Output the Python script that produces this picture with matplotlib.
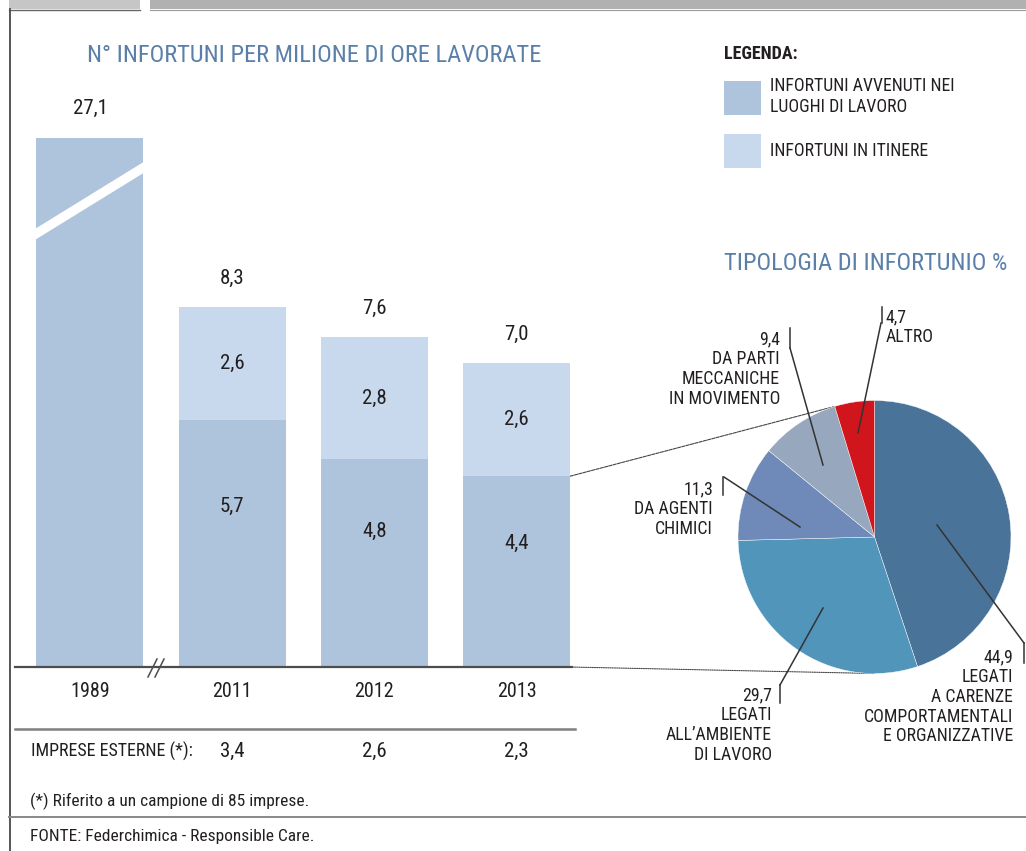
import matplotlib.pyplot as plt
from matplotlib.patches import Polygon, Rectangle, ConnectionPatch
import numpy as np

plt.rcParams['font.family'] = ['Roboto Condensed', 'Archivo Narrow', 'Liberation Sans', 'DejaVu Sans']

# dati del grafico a barre
anni = ['1989', '2011', '2012', '2013']
luoghi_lavoro = [27.1, 5.7, 4.8, 4.4]
in_itinere = [0.0, 2.6, 2.8, 2.6]
imprese_esterne = [3.4, 2.6, 2.3]
nomi_serie = ['INFORTUNI AVVENUTI NEI\nLUOGHI DI LAVORO', 'INFORTUNI IN ITINERE']

# dati della torta
tipologie = ['LEGATI\nA CARENZE\nCOMPORTAMENTALI\nE ORGANIZZATIVE',
             'LEGATI\nALL\u2019AMBIENTE\nDI LAVORO',
             'DA AGENTI\nCHIMICI',
             'DA PARTI\nMECCANICHE\nIN MOVIMENTO',
             'ALTRO']
percentuali = [44.9, 29.7, 11.3, 9.4, 4.7]
colori_torta = ['#4a7399', '#5195bb', '#6f8ab8', '#97a7bd', '#d0161c']

col_scuro = '#aec3dc'
col_chiaro = '#c8d9ee'
blu_titolo = '#5a80aa'
nero = '#231f20'

W, H = 1026, 851


def fmt(v):
    return f'{v:.1f}'.replace('.', ',')


fig = plt.figure(figsize=(W / 100, H / 100), dpi=100)

# asse per decorazioni in pixel
ov = fig.add_axes([0, 0, 1, 1], zorder=3)
ov.set_xlim(0, W)
ov.set_ylim(H, 0)
ov.axis('off')
ov.patch.set_alpha(0)

# cornice
ov.add_patch(Rectangle((9, 0), 131, 9, color='#c6c6c6', lw=0))
ov.add_patch(Rectangle((150, 0), W - 150, 9, color='#b1b1b1', lw=0))
ov.plot([9, 140], [10, 10], color='#666666', lw=1)
ov.plot([150, W], [10, 10], color='#999999', lw=0.8)
ov.plot([9.5, 9.5], [9, H], color='#555555', lw=1.4)
ov.plot([9, W], [817, 817], color='#888888', lw=1.4)
ov.plot([15, 575], [729, 729], color='#808080', lw=1.8)

# --- barre ---
ax = fig.add_axes([15 / W, 1 - 667 / H, 557 / W, 529 / H], zorder=1)
x = np.arange(len(anni))
b1 = ax.bar(x, luoghi_lavoro, width=0.752, color=col_scuro, label=nomi_serie[0], zorder=1)
totali = [a + b for a, b in zip(luoghi_lavoro, in_itinere)]
b2 = ax.bar(x, in_itinere, bottom=luoghi_lavoro, width=0.752, color=col_chiaro,
            label=nomi_serie[1], zorder=1)
ax.set_xlim(-0.527, 3.39)
ax.set_ylim(0, 12.2)
for s in ['top', 'left', 'right']:
    ax.spines[s].set_visible(False)
ax.spines['bottom'].set_color('#4d4d4d')
ax.spines['bottom'].set_linewidth(1.6)
ax.spines['bottom'].set_zorder(3)
ax.set_yticks([])
ax.set_xticks(x, anni)
ax.tick_params(axis='x', length=0, pad=11, labelsize=14.5, labelcolor=nero)
ax.patch.set_alpha(0)

ymax = ax.get_ylim()[1]
for i in range(len(anni)):
    ax.annotate(fmt(totali[i]), (x[i], min(totali[i], ymax)), xytext=(0, 21),
                textcoords='offset points', ha='center', va='center',
                fontsize=15, color=nero, annotation_clip=False)
    if in_itinere[i] > 0:
        ax.text(x[i], luoghi_lavoro[i] + in_itinere[i] / 2, fmt(in_itinere[i]),
                ha='center', va='center', fontsize=15, color=nero)
        ax.text(x[i], luoghi_lavoro[i] * 0.65, fmt(luoghi_lavoro[i]),
                ha='center', va='center', fontsize=15, color=nero)

# imprese esterne
ax.text(31, 751, 'IMPRESE ESTERNE (*):', transform=ov.transData, ha='left',
        va='center', fontsize=13, color=nero)
for i, v in enumerate(imprese_esterne):
    ax.text(x[i + 1], (667 - 751) / 529, fmt(v), transform=ax.get_xaxis_transform(),
            ha='center', va='center', fontsize=15, color=nero)

# interruzione barra 1989
ov.add_patch(Polygon([(30, 232), (150, 158), (150, 169), (30, 243)], closed=True,
                     color='white', lw=0))
for dx in (0, 7):
    ov.plot([148 + dx, 157 + dx], [677, 659], color='#4d4d4d', lw=1.1)

ov.text(314, 55, 'N\u00b0 INFORTUNI PER MILIONE DI ORE LAVORATE', ha='center',
        va='center', fontsize=17.6, color=blu_titolo)
ov.text(30, 801, '(*) Riferito a un campione di 85 imprese.', ha='left',
        va='center', fontsize=12.5, color=nero)
ov.text(30, 836, 'FONTE: Federchimica - Responsible Care.', ha='left',
        va='center', fontsize=12.5, color=nero)

# legenda
ov.text(724, 54, 'LEGENDA:', ha='left', va='center', fontsize=13,
        fontweight='bold', color=nero)
leg = ax.legend(handles=[b1, b2], loc='upper left',
                bbox_to_anchor=(724 / W, 1 - 77 / H), bbox_transform=fig.transFigure,
                frameon=False, fontsize=12.8, labelcolor=nero,
                handlelength=2.08, handleheight=2.56, handletextpad=0.5,
                labelspacing=1.0, borderpad=0, borderaxespad=0)

# --- torta ---
cx, cy, r = 874.5, 537, 136.5
pax = fig.add_axes([(cx - 140) / W, 1 - (cy + 140) / H, 280 / W, 280 / H], zorder=2)
wedges, _ = pax.pie(percentuali, colors=colori_torta, startangle=90, counterclock=False,
                    radius=1, wedgeprops=dict(edgecolor='white', linewidth=0.3))
pax.set_xlim(-140 / r, 140 / r)
pax.set_ylim(-140 / r, 140 / r)
pax.set_aspect('equal')

ov.text(724, 264, 'TIPOLOGIA DI INFORTUNIO %', ha='left', va='center',
        fontsize=17.6, color=blu_titolo)

# collegamenti barra 2013 -> torta
ang = np.deg2rad(wedges[3].theta1)
for ya, pb, ls in [(luoghi_lavoro[3], (np.cos(ang), np.sin(ang)), (0, (3, 1))),
                   (0, (0, -1), (0, (1, 1)))]:
    con = ConnectionPatch(xyA=(x[3] + 0.376, ya), coordsA=ax.transData,
                          xyB=pb, coordsB=pax.transData, color='#444444',
                          lw=0.8, linestyle=ls)
    fig.add_artist(con)

# etichette torta: (x testo, y prima riga, allineamento, x tacca, y tacca, punto interno)
disposizione = [
    (1013, 655, 'right', 1024, (643, 663), (937, 525), (1024, 643)),
    (772, 693, 'right', 780, (685, 703), (823, 608), (780, 685)),
    (713, 487, 'right', 723, (477, 495), (800, 527), (724, 477)),
    (780, 337, 'right', 790, (328, 348), (823, 465), (790, 348)),
    (886, 315, 'left', 882, (307, 323), (858, 433), (881, 323)),
]
for p, t, (tx, ty, ha, kx, ky, pin, pout) in zip(percentuali, tipologie, disposizione):
    ov.text(tx, ty - 6.5, fmt(p) + '\n' + t, ha=ha, va='top', fontsize=12.8,
            color=nero, linespacing=1.12, multialignment=ha)
    ov.plot([kx, kx], ky, color='#333333', lw=1.1)
    ov.plot([pout[0], pin[0]], [pout[1], pin[1]], color='#333333', lw=1.1)

fig.savefig('out.png', dpi=100)
